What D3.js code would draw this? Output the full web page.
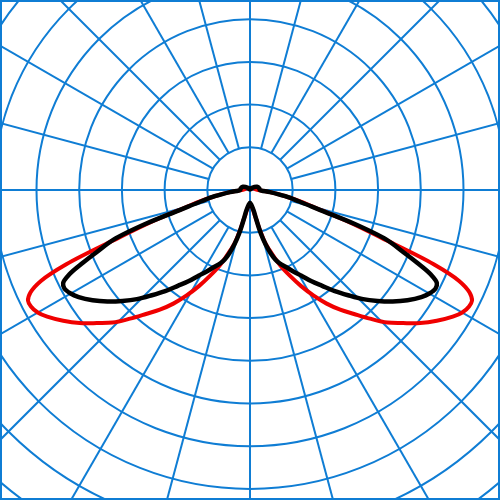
<!DOCTYPE html>
<html>
<head>
<meta charset="utf-8">
<style>
  html, body { margin: 0; padding: 0; background: #fff; }
  svg { display: block; }
</style>
</head>
<body>
<div id="chart"></div>
<script src="https://cdn.jsdelivr.net/npm/d3@7/dist/d3.min.js"></script>
<script>
// angle from nadir (deg), one half of the symmetric curve
var angles = [0, 5, 10, 12, 14, 16, 18, 20, 22, 25, 28, 31, 34, 37, 40, 43, 46, 49, 52, 55,
  58, 60, 62, 63.5, 65, 66.5, 68, 70, 72, 74, 77, 80, 84, 90, 100, 115, 135, 160, 180];
// intensities, one grid ring = 100
var redValues = [33, 37, 54, 70, 98, 129, 148, 169, 192, 222, 255, 288, 321, 351, 379, 412, 447, 475, 506, 534,
  560, 574, 581, 581, 567, 534, 464, 328, 246, 176, 122, 84, 47, 19, 12, 9, 5, 2, 2];
var blackValues = [30, 35, 49, 70, 105, 133, 155, 173, 185, 199, 216, 234, 258, 281, 309, 337, 368, 396, 424, 450,
  473, 485, 492, 489, 466, 426, 386, 340, 258, 173, 117, 84, 47, 23, 22, 18, 7, 2, 2];
var rings = [100, 200, 300, 400, 500, 600, 700, 800, 900];
var spokes = d3.range(0, 360, 15);

var W = 500, H = 500, cx = 250, cy = 190;
var gridColor = '#0f7dd4';

var svg = d3.select('#chart').append('svg')
  .attr('width', W)
  .attr('height', H);

var r = d3.scaleLinear().domain([0, 100]).range([0, 42.7]);

var g = svg.append('g')
  .attr('transform', 'translate(' + [cx, cy] + ')');

// rings
g.selectAll('circle.ring')
  .data(rings)
  .enter().append('circle')
  .attr('class', 'ring')
  .attr('r', d => r(d))
  .attr('fill', 'none')
  .attr('stroke', gridColor)
  .attr('stroke-width', 2);

// spokes, main axes go through the centre
g.selectAll('line.spoke')
  .data(spokes)
  .enter().append('line')
  .attr('class', 'spoke')
  .attr('x1', d => (d % 90 === 0 ? 0 : r(rings[0])) * Math.sin(d * Math.PI / 180))
  .attr('y1', d => (d % 90 === 0 ? 0 : r(rings[0])) * Math.cos(d * Math.PI / 180))
  .attr('x2', d => r(1000) * Math.sin(d * Math.PI / 180))
  .attr('y2', d => r(1000) * Math.cos(d * Math.PI / 180))
  .attr('stroke', gridColor)
  .attr('stroke-width', 2);

// build closed curve: right half then mirrored left half
function curvePoints(values) {
  var pts = angles.map((a, i) => [Math.PI - a * Math.PI / 180, r(values[i])]);
  for (var i = angles.length - 2; i > 0; i--) {
    pts.push([Math.PI + angles[i] * Math.PI / 180, r(values[i])]);
  }
  return pts;
}

var radial = d3.lineRadial()
  .angle(d => d[0])
  .radius(d => d[1])
  .curve(d3.curveCatmullRomClosed.alpha(0.5));

g.append('path')
  .attr('d', radial(curvePoints(redValues)))
  .attr('fill', 'none')
  .attr('stroke', '#f00000')
  .attr('stroke-width', 4)
  .attr('stroke-linejoin', 'round');

g.append('path')
  .attr('d', radial(curvePoints(blackValues)))
  .attr('fill', 'none')
  .attr('stroke', '#000')
  .attr('stroke-width', 4.5)
  .attr('stroke-linejoin', 'round');

// frame
svg.append('rect')
  .attr('x', 1)
  .attr('y', 1)
  .attr('width', W - 2)
  .attr('height', H - 2)
  .attr('fill', 'none')
  .attr('stroke', gridColor)
  .attr('stroke-width', 2);
</script>
</body>
</html>
